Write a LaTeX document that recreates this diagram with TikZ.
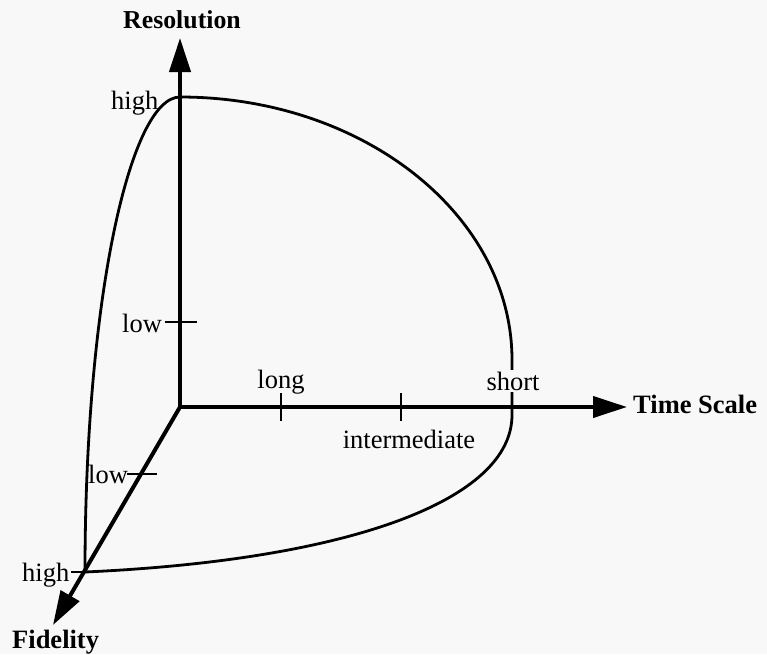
\documentclass[tikz,border=0pt]{standalone}
\usepackage{fontspec}
\setmainfont{Liberation Serif}
\usetikzlibrary{arrows.meta}
\definecolor{bg}{RGB}{248,248,248}
\begin{document}
\begin{tikzpicture}[x=1pt,y=-1pt,
  axis/.style={line width=4pt,-{Triangle[length=34pt,width=21pt]}},
  curve/.style={line width=2.8pt,line join=round},
  tick/.style={line width=2.4pt},
  lbl/.style={font=\fontsize{26.5}{31}\selectfont,inner sep=0pt},
  title/.style={font=\fontsize{26.5}{31}\selectfont\bfseries,inner sep=0pt}]
\fill[bg] (0,0) rectangle (767,654);
\useasboundingbox (0,0) rectangle (767,654);
% key points
\coordinate (O) at (180,407);
\coordinate (Rtip) at (180,38);
\coordinate (Ttip) at (627,407);
\coordinate (Ftip) at (53,625);
\coordinate (Rhigh) at (180,97);
\coordinate (Fhigh) at (85,572);
% envelope curve
\draw[curve] (Fhigh) .. controls (85,300) and (130,97) .. (Rhigh)
  .. controls (363,97) and (512,215) .. (512,360)
  -- (512,415)
  .. controls (512,500) and (350,560) .. (Fhigh);
% short label hides the curve
\node[lbl,anchor=base,fill=bg,inner sep=2pt] (lshort) at (513,390) {short};
% axes
\draw[axis] (O) -- (Rtip);
\draw[axis] (O) -- (Ttip);
\draw[axis] (O) -- (Ftip);
% ticks
\coordinate (rl1) at (165,322); \coordinate (rl2) at (197,322);
\draw[tick] (rl1) -- (rl2);
\coordinate (tl1) at (281,393); \coordinate (tl2) at (281,421);
\draw[tick] (tl1) -- (tl2);
\coordinate (ti1) at (401,393); \coordinate (ti2) at (401,421);
\draw[tick] (ti1) -- (ti2);
\coordinate (ts1) at (512,396); \coordinate (ts2) at (512,421);
\draw[tick] (ts1) -- (ts2);
\coordinate (fl1) at (127,474); \coordinate (fl2) at (157,474);
\draw[tick] (fl1) -- (fl2);
\coordinate (fh1) at (71,572);
\draw[tick] (fh1) -- (Fhigh);
% labels
\node[title,anchor=base,font=\fontsize{25.8}{31}\selectfont\bfseries] (tres) at (182,28) {Resolution};
\node[title,anchor=base west] (ttime) at (633,413) {Time Scale};
\node[title,anchor=base west] (tfid) at (12,648) {Fidelity};
\node[lbl,anchor=base west] (lrh) at (111,109) {high};
\node[lbl,anchor=base west] (lrl) at (122,332) {low};
\node[lbl,anchor=base west] (lfl) at (88,483) {low};
\node[lbl,anchor=base west] (lfh) at (22,581) {high};
\node[lbl,anchor=base] (llong) at (281,388) {long};
\node[lbl,anchor=base] (linter) at (409,448) {intermediate};
\end{tikzpicture}
\end{document}
